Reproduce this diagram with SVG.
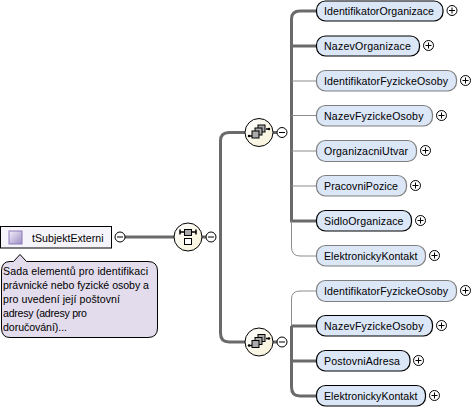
<svg xmlns="http://www.w3.org/2000/svg" width="473" height="412" viewBox="0 0 473 412">
<defs>
<linearGradient id="sq" x1="0" y1="0" x2="1" y2="1"><stop offset="0" stop-color="#f4f0fa"/><stop offset="1" stop-color="#9c8cc4"/></linearGradient>
<linearGradient id="cmp" x1="0" y1="0" x2="1" y2="1"><stop offset="0" stop-color="#ffffff"/><stop offset="1" stop-color="#f6f1d6"/></linearGradient>
<g id="plus"><circle r="5" fill="#fff" stroke="#000" stroke-width="1"/><path d="M-3 0H3M0 -3V3" stroke="#000" stroke-width="1" fill="none"/></g>
<g id="minus"><circle r="5" fill="#fff" stroke="#000" stroke-width="1"/><path d="M-3 0H3" stroke="#000" stroke-width="1" fill="none"/></g>
<g id="seqicon"><path d="M-10 3.500H-7M7 -3.500H10" stroke="#000" stroke-width="1.500" fill="none"/><circle cx="-10" cy="3.500" r="1.200" fill="#000"/><circle cx="10" cy="-3.500" r="1.200" fill="#000"/><rect x="-1" y="-7.500" width="7" height="7" fill="#aaa" stroke="#000"/><rect x="-4" y="-4.500" width="7" height="7" fill="#aaa" stroke="#000"/><rect x="-7" y="-1.500" width="7" height="7" fill="#aaa" stroke="#000"/></g>
</defs>
<style>
text{font-family:"Liberation Sans",Arial,sans-serif;fill:#000}
.n{font-size:10.600px}
.note{font-size:10.600px}
.req{fill:#dbe6f7;stroke:#000;stroke-width:1.200}
.opt{fill:#dbe6f7;stroke:#7f7f7f;stroke-width:1.200}
.cmp{fill:url(#cmp);stroke:#000;stroke-width:1}
.thick{stroke:#6a6a6a;stroke-width:3;fill:none}
.thin{stroke:#8c8c8c;stroke-width:1;fill:none}
</style>
<g id="connectors">
<path class="thick" d="M125 237H174"/>
<path class="thick" d="M202 237H216"/>
<path class="thick" d="M245 132.500H229Q220.500 132.500 220.500 141V333Q220.500 342 229 342H245"/>
<path class="thick" d="M273 132.500H287"/>
<path class="thick" d="M316 11H300Q291.500 11 291.500 19V221H316M291.500 46H316"/>
<path class="thin" d="M291.500 81H316M291.500 115.500H316M291.500 151H316M291.500 186H316"/>
<path class="thin" d="M291.500 221V247Q291.500 256 300 256H316"/>
<path class="thick" d="M273 342H287"/>
<path class="thin" d="M316 291H300Q291.500 291 291.500 299V326"/>
<path class="thick" d="M291.500 326V387Q291.500 396 300 396H316M291.500 326H316M291.500 361H316"/>
</g>
<g id="root">
<rect x="0.500" y="226.500" width="111" height="21.500" fill="#f6f4fb" stroke="#000"/>
<rect x="9" y="231" width="13" height="13" fill="url(#sq)" stroke="#8a7bb5"/>
<text class="n" x="32" y="241.500" textLength="71.500">tSubjektExterni</text>
<use href="#minus" x="120" y="237"/>
</g>
<g id="note">
<path d="M10 261.500H13.500L20 254.500L26.500 261.500H148Q157.500 261.500 157.500 271V328Q157.500 337.500 148 337.500H10Q1.500 337.500 1.500 328V271Q1.500 261.500 10 261.500Z" fill="#e3dcec" stroke="#000"/>
<text class="note" x="3" y="275" textLength="145" lengthAdjust="spacing">Sada elementů pro identifikaci</text>
<text class="note" x="3" y="289" textLength="146" lengthAdjust="spacing">právnické nebo fyzické osoby a</text>
<text class="note" x="3" y="303" textLength="117" lengthAdjust="spacing">pro uvedení její poštovní</text>
<text class="note" x="3" y="317" textLength="84" lengthAdjust="spacing">adresy (adresy pro</text>
<text class="note" x="3" y="331" textLength="64" lengthAdjust="spacing">doručování)...</text>
</g>
<g id="choice">
<circle class="cmp" cx="188" cy="237" r="14"/>
<path d="M180 232H196" stroke="#000" stroke-width="1.500" fill="none"/><path d="M180 229.500V234.500M196 229.500V234.500" stroke="#000" stroke-width="1.500"/>
<rect x="184.500" y="229.500" width="7" height="6" fill="#aaa" stroke="#000"/>
<rect x="184.500" y="238.500" width="7" height="6" fill="#fff" stroke="#000"/>
<use href="#minus" x="211" y="237"/>
</g>
<g id="seq1"><circle class="cmp" cx="259" cy="132.500" r="14"/><use href="#seqicon" x="259" y="132.500"/><use href="#minus" x="282" y="132.500"/></g>
<g id="seq2"><circle class="cmp" cx="259" cy="342" r="14"/><use href="#seqicon" x="259" y="342"/><use href="#minus" x="282" y="342"/></g>
<g id="n1"><rect class="req" x="316.500" y="1" width="126.500" height="20" rx="9"/><text class="n" x="324" y="15" textLength="110">IdentifikatorOrganizace</text><use href="#plus" x="452" y="10.500"/></g>
<g id="n2"><rect class="req" x="316.500" y="36" width="103" height="20" rx="9"/><text class="n" x="324" y="50" textLength="87">NazevOrganizace</text><use href="#plus" x="428.500" y="45.500"/></g>
<g id="n3"><rect class="opt" x="316.500" y="70.500" width="140" height="20.500" rx="9"/><text class="n" x="324" y="85" textLength="124">IdentifikatorFyzickeOsoby</text><use href="#plus" x="465.500" y="80.500"/></g>
<g id="n4"><rect class="opt" x="316.500" y="105.500" width="116" height="20.500" rx="9"/><text class="n" x="324" y="120" textLength="99.500">NazevFyzickeOsoby</text><use href="#plus" x="441.500" y="115.500"/></g>
<g id="n5"><rect class="opt" x="316.500" y="140.500" width="100" height="21" rx="9"/><text class="n" x="324" y="155" textLength="84">OrganizacniUtvar</text><use href="#plus" x="425.500" y="150.500"/></g>
<g id="n6"><rect class="opt" x="316.500" y="175.500" width="90" height="20.500" rx="9"/><text class="n" x="324" y="190" textLength="74">PracovniPozice</text><use href="#plus" x="415.500" y="185.500"/></g>
<g id="n7"><rect class="req" x="316.500" y="210.500" width="95" height="20.500" rx="9"/><text class="n" x="324" y="225" textLength="79.500">SidloOrganizace</text><use href="#plus" x="420.500" y="220.500"/></g>
<g id="n8"><rect class="opt" x="316.500" y="245.500" width="109" height="20.500" rx="9"/><text class="n" x="324" y="260" textLength="93.500">ElektronickyKontakt</text><use href="#plus" x="434.500" y="255.500"/></g>
<g id="n9"><rect class="opt" x="316.500" y="280.500" width="140" height="21" rx="9"/><text class="n" x="324" y="295" textLength="124">IdentifikatorFyzickeOsoby</text><use href="#plus" x="465.500" y="290.500"/></g>
<g id="n10"><rect class="req" x="316.500" y="315.500" width="116" height="20.500" rx="9"/><text class="n" x="324" y="330" textLength="99.500">NazevFyzickeOsoby</text><use href="#plus" x="441.500" y="325.500"/></g>
<g id="n11"><rect class="req" x="316.500" y="350.500" width="93.500" height="20.500" rx="9"/><text class="n" x="324" y="365" textLength="76">PostovniAdresa</text><use href="#plus" x="418.500" y="360.500"/></g>
<g id="n12"><rect class="req" x="316.500" y="385.500" width="109" height="20.500" rx="9"/><text class="n" x="324" y="400" textLength="93.500">ElektronickyKontakt</text><use href="#plus" x="434.500" y="395.500"/></g>
</svg>
